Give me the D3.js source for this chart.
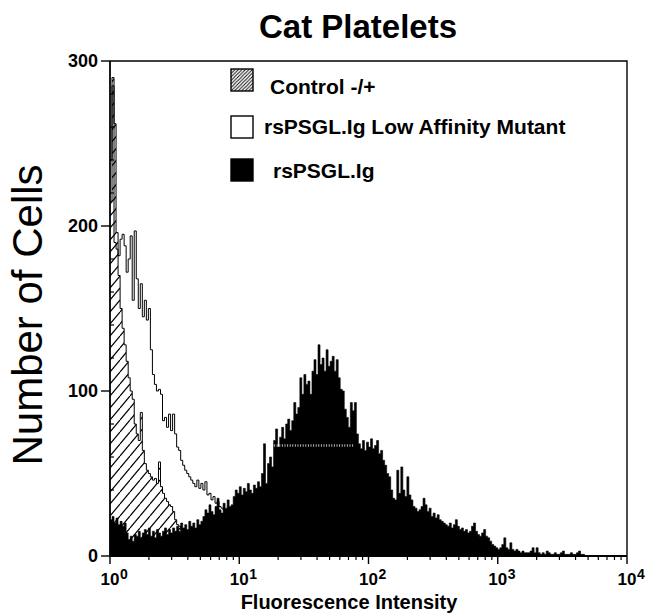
<!DOCTYPE html>
<html>
<head>
<meta charset="utf-8">
<script src="https://cdn.jsdelivr.net/npm/d3@7"></script>
<style>
  body { margin: 0; background: #fff; }
  text { font-family: "Liberation Sans", Arial, Helvetica, sans-serif; fill: #000; }
</style>
</head>
<body>
<script>
var width = 647,
    height = 615;

// channels are 1/64 decade each, starting at 10^0
var channelsPerDecade = 64;

// rsPSGL.Ig (filled black)
var rsPSGL = [
    22, 24, 20, 23, 19, 21, 18, 20,
    14, 10, 12, 9, 13,
    12, 15, 11, 14, 16, 13, 17, 12, 15, 11, 16, 14, 12, 15, 17, 13, 16, 14, 17, 15,
    18, 15, 20, 17, 19, 16, 21, 18, 20, 17, 22, 19, 21,
    24, 28, 26, 31, 27, 25, 30, 35, 28, 26, 32, 29, 34, 30, 31,
    36, 40, 38, 42, 37, 41, 39, 44, 40, 38, 43, 41, 45, 42, 50,
    68, 44,
    56, 60, 54, 70, 77, 66, 72, 78, 71, 80, 83, 76, 82, 93, 86,
    90, 108, 98, 110, 104, 106, 98, 112, 119, 110, 128, 116, 120, 112, 125,
    115, 118, 121, 112, 119, 108, 101, 100, 89, 84, 78, 93, 88, 93, 74,
    68, 65, 70, 64, 69, 66, 71, 65, 67, 70, 62, 64,
    58, 55, 50, 48, 40, 35, 34,
    52, 38, 54, 40, 36, 48, 37, 34, 30,
    29, 27, 28, 30, 35,
    31, 27, 29, 24, 26, 23, 25, 22, 21,
    20, 19, 18, 20, 17, 19, 22, 18, 16, 17, 15, 16, 14, 15, 18,
    20, 15, 13, 12, 14, 16, 12, 11,
    9, 7, 6, 5, 4,
    5, 7, 11, 5, 4, 8, 4, 3, 4, 3, 2, 3, 2,
    2, 2, 3, 5, 2, 5, 2, 1, 2, 1, 3, 2, 1, 1, 2, 1, 1, 2, 3, 1, 1, 1, 2, 1, 1, 2, 3, 1, 1, 0
];

// Control -/+ (hatched)
var control = [
    215, 290, 262, 196, 170, 150, 138, 128, 118, 108, 100, 95, 80, 74, 70, 87, 64, 56, 52, 50,
    48, 46, 47, 44, 57, 42, 38, 35, 33, 31, 30, 27, 22, 19, 18, 16, 14, 12
];

// rsPSGL.Ig Low Affinity Mutant (open)
var mutant = [
    240, 285, 190, 186, 182, 192, 195, 188, 172, 180,
    194, 155, 197, 168, 150, 165, 145, 155, 143, 150,
    125, 110, 104, 100, 101, 98, 82, 84, 78, 86,
    76, 86, 74, 66, 64, 58, 55, 52, 50, 48,
    46, 44, 42, 46, 41, 44, 40, 45, 37, 38,
    34, 36, 32, 33, 30, 29, 28, 27
];

// speckled white band inside the black peak: [from, to, count]
var band = [18.6, 77.6, 67];

var yTicks = [0, 100, 200, 300];
var xTicks = [1, 10, 100, 1000, 10000];
var legendItems = ["Control -/+", "rsPSGL.Ig Low Affinity Mutant", "rsPSGL.Ig"];

var svg = d3.select("body")
    .append("svg")
    .attr("width", width)
    .attr("height", height);

var x = d3.scaleLog()
    .domain([1, 10000])
    .range([110, 627]);

var y = d3.scaleLinear()
    .domain([0, 300])
    .range([556, 61]);

// hatch patterns: wide one for the plot, dense one for the legend swatch
var defs = svg.append("defs");
defs.append("pattern")
    .attr("id", "hatch")
    .attr("patternUnits", "userSpaceOnUse")
    .attr("width", 10)
    .attr("height", 12)
    .append("path")
    .attr("d", "M0,12 L10,0 M-1,1 L0,0 M10,12 L11,11")
    .attr("stroke", "#000")
    .attr("stroke-width", 1.2);
defs.append("pattern")
    .attr("id", "hatchSmall")
    .attr("patternUnits", "userSpaceOnUse")
    .attr("width", 3.5)
    .attr("height", 3.5)
    .append("path")
    .attr("d", "M0,3.5 L3.5,0 M-1,1 L1,-1 M2.5,4.5 L4.5,2.5")
    .attr("stroke", "#000")
    .attr("stroke-width", 0.9);

// turn a channel list into step points, one extra point closes the last bin
function steps(values) {
    var pts = values.map(function(v, i) { return [Math.pow(10, i / channelsPerDecade), v]; });
    pts.push([Math.pow(10, values.length / channelsPerDecade), values[values.length - 1]]);
    return pts;
}

var area = d3.area()
    .curve(d3.curveStepAfter)
    .x(function(d) { return x(d[0]); })
    .y0(y(0))
    .y1(function(d) { return y(d[1]); });

var outline = d3.line()
    .curve(d3.curveStepAfter)
    .x(function(d) { return x(d[0]); })
    .y(function(d) { return y(d[1]); });

var plot = svg.append("g");

// mutant: white fill with black outline
plot.append("path")
    .attr("d", area(steps(mutant)))
    .attr("fill", "#fff");
plot.append("path")
    .attr("d", outline(steps(mutant)))
    .attr("fill", "none")
    .attr("stroke", "#000")
    .attr("stroke-width", 1);

// control: hatched
plot.append("path")
    .attr("d", area(steps(control)))
    .attr("fill", "url(#hatch)");
plot.append("path")
    .attr("d", outline(steps(control)))
    .attr("fill", "none")
    .attr("stroke", "#000")
    .attr("stroke-width", 1);

// rsPSGL.Ig: solid black
plot.append("path")
    .attr("d", area(steps(rsPSGL)))
    .attr("fill", "#000")
    .attr("stroke", "#000")
    .attr("stroke-width", 0.6);

plot.append("line")
    .attr("x1", x(band[0])).attr("x2", x(band[1]))
    .attr("y1", y(band[2])).attr("y2", y(band[2]))
    .attr("stroke", "#b4b4b4")
    .attr("stroke-width", 2.5)
    .attr("stroke-dasharray", "1,1.6");

// frame: top and right sides
svg.append("path")
    .attr("d", "M" + x(1) + "," + y(300) + "H" + x(10000) + "V" + y(0))
    .attr("fill", "none")
    .attr("stroke", "#000")
    .attr("stroke-width", 1.4);

// y axis: major ticks outside, minor ticks every 20 inside
var yAxis = svg.append("g");
yAxis.append("line")
    .attr("x1", x(1)).attr("x2", x(1))
    .attr("y1", y(0)).attr("y2", y(300))
    .attr("stroke", "#000").attr("stroke-width", 1.8);
yAxis.selectAll(".major")
    .data(yTicks)
    .enter().append("line")
    .attr("x1", x(1) - 9).attr("x2", x(1))
    .attr("y1", function(d) { return y(d); })
    .attr("y2", function(d) { return y(d); })
    .attr("stroke", "#000").attr("stroke-width", 1.4);
yAxis.selectAll(".minor")
    .data(d3.range(20, 300, 20).filter(function(d) { return d % 100 !== 0; }))
    .enter().append("line")
    .attr("x1", x(1)).attr("x2", x(1) + 4)
    .attr("y1", function(d) { return y(d); })
    .attr("y2", function(d) { return y(d); })
    .attr("stroke", "#000").attr("stroke-width", 1.2);
yAxis.selectAll(".label")
    .data(yTicks)
    .enter().append("text")
    .attr("x", x(1) - 12)
    .attr("y", function(d) { return y(d) + 6; })
    .attr("text-anchor", "end")
    .style("font-size", "18px")
    .style("font-weight", "bold")
    .text(function(d) { return d; });

// x axis: log decades with minor ticks 2..9
var xAxis = svg.append("g");
xAxis.append("line")
    .attr("x1", x(1)).attr("x2", x(10000))
    .attr("y1", y(0)).attr("y2", y(0))
    .attr("stroke", "#000").attr("stroke-width", 1.8);
var minorX = [];
xTicks.slice(0, -1).forEach(function(t) {
    for (var k = 2; k < 10; k++) minorX.push(t * k);
});
xAxis.selectAll(".minor")
    .data(minorX)
    .enter().append("line")
    .attr("x1", function(d) { return x(d); })
    .attr("x2", function(d) { return x(d); })
    .attr("y1", y(0)).attr("y2", y(0) + 4)
    .attr("stroke", "#000").attr("stroke-width", 1.2);
xAxis.selectAll(".major")
    .data(xTicks)
    .enter().append("line")
    .attr("x1", function(d) { return x(d); })
    .attr("x2", function(d) { return x(d); })
    .attr("y1", y(0)).attr("y2", y(0) + 8)
    .attr("stroke", "#000").attr("stroke-width", 1.4);
var xLab = xAxis.selectAll(".label")
    .data(xTicks)
    .enter().append("g");
xLab.append("text")
    .attr("x", function(d) { return x(d); })
    .attr("y", 585)
    .attr("text-anchor", "middle")
    .style("font-size", "17px")
    .style("font-weight", "bold")
    .text("10");
xLab.append("text")
    .attr("x", function(d) { return x(d) + 10; })
    .attr("y", 579)
    .style("font-size", "14px")
    .style("font-weight", "bold")
    .text(function(d) { return Math.round(Math.log10(d)); });

// titles
svg.append("text")
    .attr("x", 358)
    .attr("y", 38)
    .attr("text-anchor", "middle")
    .style("font-size", "33px")
    .style("font-weight", "bold")
    .text("Cat Platelets");

svg.append("text")
    .attr("x", 349)
    .attr("y", 609)
    .attr("text-anchor", "middle")
    .style("font-size", "20px")
    .style("font-weight", "bold")
    .text("Fluorescence Intensity");

svg.append("text")
    .attr("transform", "translate(42,315) rotate(-90)")
    .attr("text-anchor", "middle")
    .style("font-size", "42px")
    .text("Number of Cells");

// legend
var legendTop = [69, 116, 159];
var legendTextX = [270, 264, 273];
var legendBase = [94, 134, 178];
var legendFill = ["url(#hatchSmall)", "#fff", "#000"];
var legend = svg.append("g");
legend.selectAll("rect")
    .data(legendItems)
    .enter().append("rect")
    .attr("x", 231)
    .attr("y", function(d, i) { return legendTop[i]; })
    .attr("width", 22)
    .attr("height", 22)
    .attr("fill", function(d, i) { return legendFill[i]; })
    .attr("stroke", "#000")
    .attr("stroke-width", 1.4);
legend.selectAll("text")
    .data(legendItems)
    .enter().append("text")
    .attr("x", function(d, i) { return legendTextX[i]; })
    .attr("y", function(d, i) { return legendBase[i]; })
    .style("font-size", "21px")
    .style("font-weight", "bold")
    .text(function(d) { return d; });
</script>
</body>
</html>
